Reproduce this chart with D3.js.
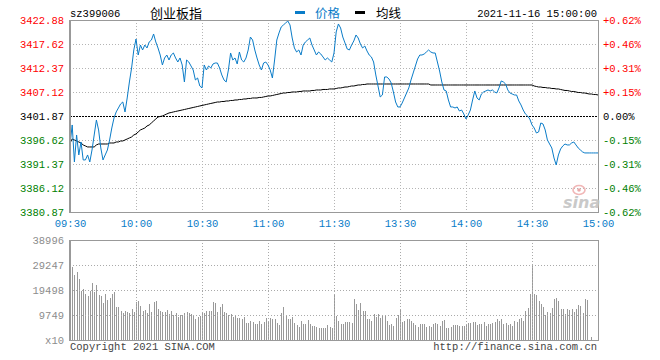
<!DOCTYPE html>
<html><head><meta charset="utf-8">
<script src="https://cdn.jsdelivr.net/npm/d3@7"></script>
<style>
html,body{margin:0;padding:0;background:#fff;}
svg{display:block;}
</style></head><body>
<svg id="c" width="660" height="360"></svg>
<script>
// ---------- data ----------
const priceTicks = [3422.88,3417.62,3412.37,3407.12,3401.87,3396.62,3391.37,3386.12,3380.87];
const pctLabels = ["+0.62%","+0.46%","+0.31%","+0.15%","0.00%","-0.15%","-0.31%","-0.46%","-0.62%"];
const timeTickIdx = [0,30,60,90,120,150,180,210,240];
const timeLabels = ["09:30","10:00","10:30","11:00","11:30","13:30","14:00","14:30","15:00"];
const volTicks = [38996,29247,19498,9749,0];
const volTickLabels = ["38996","29247","19498","9749","x10"];
const prevClose = 3401.87;
const symbol = "sz399006";
const title = "创业板指";
const dateText = "2021-11-16 15:00:00";

const price = [
3395.54,3399.91,3391.82,3397.72,3393.35,3396.19,3392.26,3392.26,3393.35,3391.82,
3394.44,3397.72,3401.00,3398.82,3394.88,3392.26,3393.35,3394.44,3396.63,3399.25,
3401.44,3402.76,3403.63,3404.51,3404.94,3402.76,3405.82,3409.32,3412.38,3416.32,
3418.72,3415.22,3417.41,3416.32,3417.41,3416.76,3418.07,3418.50,3419.82,3418.07,
3416.76,3415.22,3413.04,3414.57,3415.22,3414.13,3415.22,3415.66,3414.57,3413.69,
3414.57,3413.04,3409.32,3414.13,3413.69,3412.82,3411.94,3409.76,3410.19,3408.44,
3408.01,3413.04,3411.94,3412.82,3412.38,3413.26,3413.47,3413.47,3412.38,3410.85,
3409.76,3409.32,3411.94,3415.66,3414.13,3414.57,3413.26,3415.88,3414.13,3413.69,
3414.57,3416.32,3419.16,3418.50,3416.32,3414.57,3413.04,3411.94,3413.47,3413.69,
3413.04,3411.94,3410.19,3414.13,3418.50,3420.04,3421.35,3421.79,3422.22,3422.66,
3421.79,3418.94,3416.76,3415.88,3416.32,3415.22,3417.41,3418.07,3418.50,3418.94,
3417.41,3416.32,3415.22,3415.88,3415.44,3414.79,3414.13,3414.57,3414.13,3413.69,
3415.66,3420.26,3422.01,3421.13,3419.16,3417.85,3416.54,3416.32,3417.41,3418.29,
3419.60,3418.94,3417.63,3416.76,3417.19,3416.10,3415.22,3414.79,3413.69,3410.85,
3408.44,3406.04,3406.47,3410.41,3410.41,3409.97,3409.10,3407.13,3404.94,3403.85,
3403.85,3404.72,3405.82,3406.91,3408.01,3409.76,3411.29,3412.82,3414.35,3415.22,
3415.22,3415.44,3415.88,3416.32,3415.88,3415.66,3415.66,3413.69,3411.72,3409.32,
3407.57,3407.35,3405.38,3403.85,3403.85,3403.63,3403.85,3402.97,3403.19,3402.32,
3401.22,3402.10,3403.19,3405.38,3407.35,3405.82,3405.38,3406.69,3407.13,3407.35,
3407.57,3407.35,3407.57,3407.13,3406.91,3408.01,3409.54,3409.32,3408.88,3407.57,
3406.91,3406.69,3406.47,3406.47,3405.16,3404.29,3403.19,3402.32,3401.88,3401.22,
3399.91,3399.25,3398.16,3398.38,3400.35,3400.13,3398.82,3396.63,3395.75,3394.88,
3392.69,3391.16,3393.35,3394.66,3395.32,3395.75,3395.54,3395.54,3395.97,3396.19,
3395.54,3394.88,3394.44,3394.01,3393.79,3393.79,3393.79,3393.79,3393.79,3393.79,
3393.79];

const avg = [
3395.97,3396.85,3396.63,3396.41,3396.19,3395.97,3395.54,3395.32,3395.10,3395.10,
3395.10,3395.10,3395.54,3395.75,3395.75,3395.75,3395.75,3395.75,3395.97,3395.97,
3395.97,3396.19,3396.19,3396.41,3396.41,3396.63,3396.85,3397.07,3397.29,3397.72,
3397.94,3398.38,3398.82,3399.03,3399.25,3399.69,3399.91,3400.35,3400.79,3401.22,
3401.66,3401.77,3401.88,3402.10,3402.32,3402.54,3402.64,3402.76,3402.87,3402.97,
3403.08,3403.19,3403.30,3403.41,3403.52,3403.63,3403.74,3403.85,3403.96,3404.07,
3404.18,3404.29,3404.40,3404.51,3404.62,3404.72,3404.83,3404.94,3404.94,3405.05,
3405.05,3405.16,3405.16,3405.27,3405.27,3405.38,3405.38,3405.49,3405.49,3405.60,
3405.60,3405.71,3405.71,3405.82,3405.82,3405.82,3405.93,3405.93,3406.04,3406.14,
3406.26,3406.26,3406.36,3406.47,3406.58,3406.69,3406.80,3406.91,3406.91,3407.02,
3407.02,3407.13,3407.13,3407.13,3407.24,3407.24,3407.35,3407.35,3407.35,3407.35,
3407.46,3407.46,3407.57,3407.57,3407.57,3407.68,3407.68,3407.68,3407.79,3407.79,
3407.79,3407.89,3408.01,3408.01,3408.11,3408.22,3408.22,3408.33,3408.44,3408.44,
3408.55,3408.66,3408.66,3408.77,3408.77,3408.88,3408.88,3408.88,3408.88,3408.88,
3408.88,3408.88,3408.88,3408.88,3408.88,3408.88,3408.88,3408.88,3408.88,3408.88,
3408.88,3408.88,3408.88,3408.88,3408.88,3408.88,3408.88,3408.88,3408.88,3408.88,
3408.88,3408.88,3408.88,3408.88,3408.66,3408.66,3408.66,3408.66,3408.66,3408.66,
3408.66,3408.66,3408.66,3408.66,3408.66,3408.66,3408.66,3408.66,3408.66,3408.66,
3408.66,3408.66,3408.66,3408.66,3408.66,3408.66,3408.66,3408.66,3408.66,3408.66,
3408.66,3408.66,3408.66,3408.66,3408.66,3408.66,3408.66,3408.66,3408.66,3408.66,
3408.66,3408.66,3408.66,3408.66,3408.66,3408.66,3408.66,3408.66,3408.66,3408.66,
3408.66,3408.44,3408.33,3408.22,3408.22,3408.11,3408.11,3408.01,3408.01,3407.89,
3407.89,3407.79,3407.79,3407.68,3407.57,3407.46,3407.46,3407.35,3407.24,3407.24,
3407.13,3407.02,3407.02,3406.91,3406.91,3406.80,3406.69,3406.69,3406.58,3406.58,
3406.47];

const volume = [
38996,28600,25300,26500,23900,19100,20000,18000,17200,19100,
22200,18700,21400,17500,17200,14600,17900,15600,16500,18100,
18700,12900,12900,11300,10700,11300,10900,10400,12100,11000,
15000,15200,13300,11300,11700,10400,13900,11000,14800,15300,
12000,11300,10900,11000,11700,10000,11300,9700,10400,8800,
9700,9800,10400,11000,10700,10000,9800,8100,8800,9400,
10700,10700,11300,11500,11200,15000,14600,11000,12900,14000,
11000,10400,9800,10100,8800,9500,8400,8400,8200,9096,
6757,6757,7407,7017,6367,6367,7407,6367,7017,8706,
7407,8706,8316,8316,6497,5848,10396,12995,9356,8056,
8056,8966,6497,5718,5068,7407,6367,6367,7797,6107,
5458,5458,5198,4808,4678,4678,4808,5718,5198,4808,
17413,9356,7407,6107,6107,7017,7017,7017,6497,16113,
13905,11695,14424,11305,11305,8056,8056,7407,10006,9096,
10006,8706,9356,9356,7407,5718,6237,5458,8706,9616,
11695,7017,7407,8056,8056,7407,6497,5718,5198,6107,
6107,6107,5198,5458,5068,6107,6497,6107,5458,7407,
7667,4808,4808,5068,5718,5718,5718,5458,5458,5458,
6107,6497,6497,7017,7017,5718,6107,6107,7017,5458,
6107,6107,6497,7017,8056,7407,8056,6107,6497,5718,
6107,5458,7277,7147,8056,8706,7407,11305,12605,17803,
29508,17803,17413,15204,13905,12995,9616,10916,10396,12605,
15854,16374,15204,12215,12215,10006,11955,11695,12215,10916,
11955,13645,13255,10656,15854,15594,0,1170,0,0,
0];

// ---------- drawing ----------
const svg = d3.select("#c");
const L = 70, R = 598, PT = 20, PB = 212, VT = 240, VB = 340;
const x = d3.scaleLinear().domain([0, 240]).range([L, R]);
const y = d3.scaleLinear().domain([3380.87, 3422.88]).range([PB, PT]);
const yv = d3.scaleLinear().domain([0, 38996]).range([VB, VT]);
const mono = "'Liberation Mono','DejaVu Sans Mono',monospace";
const cjk = "'Noto Sans CJK SC','Noto Sans',sans-serif";
const RED = "#ff0000", GREEN = "#008000", BLUE = "#0a7cc8", GRID = "#b4b4b4", BORDER = "#999999";
const crisp = v => Math.round(v) + 0.5;

// grid: price
const gGrid = svg.append("g").attr("shape-rendering", "crispEdges");
priceTicks.slice(1, -1).forEach(t => {
  if (t === prevClose) return;
  gGrid.append("line").attr("x1", L).attr("x2", R).attr("y1", crisp(y(t))).attr("y2", crisp(y(t)))
    .attr("stroke", GRID).attr("stroke-dasharray", "1,2");
});
timeTickIdx.slice(1, -1).forEach(t => {
  gGrid.append("line").attr("x1", crisp(x(t))).attr("x2", crisp(x(t))).attr("y1", PT).attr("y2", PB)
    .attr("stroke", GRID).attr("stroke-dasharray", "1,2");
});

// previous close line
svg.append("line").attr("x1", L).attr("x2", R).attr("y1", crisp(y(prevClose))).attr("y2", crisp(y(prevClose)))
  .attr("stroke", "#000").attr("stroke-dasharray", "2,1").attr("shape-rendering", "crispEdges");

// avg & price lines
const line = d3.line().x((d, i) => x(i)).y(d => y(d));
svg.append("path").datum(avg).attr("d", line).attr("fill", "none").attr("stroke", "#000").attr("stroke-width", 1);
svg.append("path").datum(price).attr("d", line).attr("fill", "none").attr("stroke", BLUE).attr("stroke-width", 1);

// price frame
svg.append("rect").attr("x", L + 0.5).attr("y", PT + 0.5).attr("width", R - L).attr("height", PB - PT)
  .attr("fill", "none").attr("stroke", BORDER).attr("shape-rendering", "crispEdges");
svg.append("line").attr("x1", L - 0.5).attr("x2", L - 0.5).attr("y1", PT).attr("y2", PB + 1)
  .attr("stroke", BORDER).attr("shape-rendering", "crispEdges");

// volume bars
svg.append("g").attr("shape-rendering", "crispEdges").selectAll("line").data(volume).join("line")
  .attr("x1", (d, i) => crisp(x(i))).attr("x2", (d, i) => crisp(x(i)))
  .attr("y1", yv(0)).attr("y2", d => yv(d))
  .attr("stroke", "#999").attr("stroke-width", 1);

// volume grid (over bars)
const gvGrid = svg.append("g").attr("shape-rendering", "crispEdges");
volTicks.slice(1, -1).forEach(t => {
  gvGrid.append("line").attr("x1", L).attr("x2", R).attr("y1", crisp(yv(t))).attr("y2", crisp(yv(t)))
    .attr("stroke", "#aaa").attr("stroke-dasharray", "1,2");
});
timeTickIdx.slice(1, -1).forEach(t => {
  gvGrid.append("line").attr("x1", crisp(x(t))).attr("x2", crisp(x(t))).attr("y1", VT).attr("y2", VB)
    .attr("stroke", "#aaa").attr("stroke-dasharray", "1,2");
});
svg.append("rect").attr("x", L + 0.5).attr("y", VT + 0.5).attr("width", R - L).attr("height", VB - VT)
  .attr("fill", "none").attr("stroke", BORDER).attr("shape-rendering", "crispEdges");
svg.append("line").attr("x1", L - 0.5).attr("x2", L - 0.5).attr("y1", VT).attr("y2", VB + 1)
  .attr("stroke", BORDER).attr("shape-rendering", "crispEdges");

// axes
function styleAxis(g) {
  g.select(".domain").remove();
  g.selectAll("line").remove();
  g.selectAll("text").attr("font-family", mono).attr("font-size", 10.5);
}
const colorFor = d => d > prevClose + 0.001 ? RED : (d < prevClose - 0.001 ? GREEN : "#000");

svg.append("g").attr("transform", `translate(${L - 3},0)`)
  .call(d3.axisLeft(y).tickValues(priceTicks).tickSize(0).tickPadding(3).tickFormat(d3.format(".2f")))
  .call(styleAxis)
  .selectAll("text").attr("fill", d => colorFor(d));

svg.append("g").attr("transform", `translate(${R + 2},0)`)
  .call(d3.axisRight(y).tickValues(priceTicks).tickSize(0).tickPadding(3).tickFormat((d, i) => pctLabels[i]))
  .call(styleAxis)
  .selectAll("text").attr("fill", d => colorFor(d));

svg.append("g").attr("transform", `translate(0,${PB})`)
  .call(d3.axisBottom(x).tickValues(timeTickIdx).tickSize(0).tickPadding(8).tickFormat((d, i) => timeLabels[i]))
  .call(styleAxis)
  .selectAll("text").attr("fill", BLUE);

svg.append("g").attr("transform", `translate(${L - 3},0)`)
  .call(d3.axisLeft(yv).tickValues(volTicks).tickSize(0).tickPadding(3).tickFormat((d, i) => volTickLabels[i]))
  .call(styleAxis)
  .selectAll("text").attr("fill", "#8c8c8c");

// header
svg.append("text").attr("x", L).attr("y", 17).attr("font-family", mono).attr("font-size", 10.5).attr("fill", "#000").text(symbol);
svg.append("text").attr("x", 150).attr("y", 17.5).attr("font-family", cjk).attr("font-size", 13).attr("fill", "#000").text(title);
svg.append("rect").attr("x", 295).attr("y", 11).attr("width", 10).attr("height", 3).attr("fill", BLUE);
svg.append("text").attr("x", 315).attr("y", 17.5).attr("font-family", cjk).attr("font-size", 12.5).attr("fill", BLUE).text("价格");
svg.append("rect").attr("x", 355).attr("y", 11).attr("width", 10).attr("height", 3).attr("fill", "#000");
svg.append("text").attr("x", 376).attr("y", 17.5).attr("font-family", cjk).attr("font-size", 12.5).attr("fill", "#000").text("均线");
svg.append("text").attr("x", R - 1).attr("y", 17).attr("text-anchor", "end").attr("font-family", mono).attr("font-size", 10.5).attr("fill", "#000").text(dateText);

// footer
svg.append("text").attr("x", L).attr("y", 350).attr("font-family", mono).attr("font-size", 10.5).attr("fill", "#444").text("Copyright 2021 SINA.COM");
svg.append("text").attr("x", R - 1).attr("y", 350).attr("text-anchor", "end").attr("font-family", mono).attr("font-size", 10.5).attr("fill", "#444").text("http://finance.sina.com.cn");

// watermark
const wm = svg.append("g").attr("opacity", 0.9);
wm.append("ellipse").attr("cx", 579).attr("cy", 190).attr("rx", 6).attr("ry", 4.5).attr("fill", "none").attr("stroke", "#f0b0b0").attr("stroke-width", 1.6);
wm.append("circle").attr("cx", 579).attr("cy", 190).attr("r", 1.8).attr("fill", "#e8a0a0");
wm.append("text").attr("x", 563).attr("y", 208).attr("font-family", "'DejaVu Sans',sans-serif").attr("font-style", "italic").attr("font-weight", "bold").attr("font-size", 16).attr("fill", "#c4c4c4").text("sina");
</script>
</body></html>
